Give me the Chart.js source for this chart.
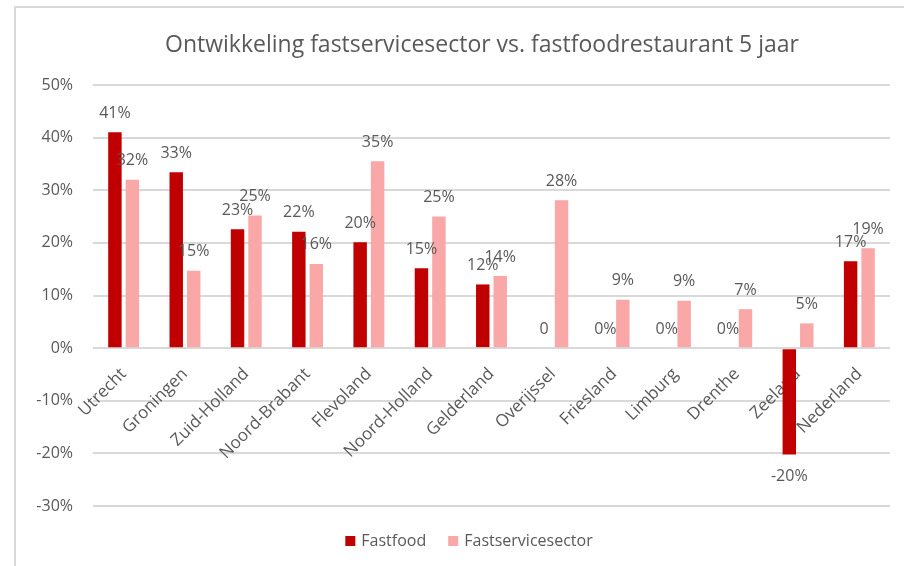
<!DOCTYPE html>
<html>
<head>
<meta charset="utf-8">
<script src="https://cdn.jsdelivr.net/npm/chart.js@4.4.0/dist/chart.umd.min.js"></script>
<style>
html,body{margin:0;padding:0;background:#fff;}
#wrap{width:904px;height:566px;position:relative;}
</style>
</head>
<body>
<div id="wrap"><canvas id="c" width="904" height="566"></canvas></div>
<script>
const titleText = 'Ontwikkeling fastservicesector vs. fastfoodrestaurant 5 jaar';
const categories = ['Utrecht','Groningen','Zuid-Holland','Noord-Brabant','Flevoland','Noord-Holland','Gelderland','Overijssel','Friesland','Limburg','Drenthe','Zeeland','Nederland'];
const seriesNames = ['Fastfood','Fastservicesector'];
const fastfood = [41.0, 33.4, 22.6, 22.1, 20.1, 15.2, 12.1, 0, 0, 0, 0, -20.2, 16.5];
const fastservice = [32.0, 14.7, 25.2, 16.0, 35.5, 25.0, 13.7, 28.1, 9.2, 9.0, 7.4, 4.7, 19.0];
const fastfoodLabels = ['41%','33%','23%','22%','20%','15%','12%','0','0%','0%','0%','-20%','17%'];
const fastserviceLabels = ['32%','15%','25%','16%','35%','25%','14%','28%','9%','9%','7%','5%','19%'];
const yMin = -30, yMax = 50, yStep = 10;

const FONT = '"Open Sans", "Noto Sans", sans-serif';
const TEXT = '#595959';
const COLORS = ['#C00000', '#F9A7A7'];
const LABEL_SETS = [fastfoodLabels, fastserviceLabels];

const deco = {
  id: 'deco',
  beforeDraw(chart) {
    const ctx = chart.ctx;
    ctx.save();
    ctx.fillStyle = '#fff';
    ctx.fillRect(0, 0, chart.width, chart.height);
    ctx.strokeStyle = '#d9d9d9';
    ctx.lineWidth = 2;
    ctx.beginPath();
    ctx.moveTo(15, chart.height + 5);
    ctx.lineTo(15, 7);
    ctx.lineTo(chart.width + 5, 7);
    ctx.stroke();
    ctx.restore();
  },
  afterDatasetsDraw(chart) {
    const ctx = chart.ctx;
    ctx.save();
    ctx.font = '16px ' + FONT;
    ctx.fillStyle = TEXT;
    ctx.textAlign = 'center';
    ctx.textBaseline = 'middle';
    chart.data.datasets.forEach((ds, di) => {
      const meta = chart.getDatasetMeta(di);
      meta.data.forEach((bar, i) => {
        const v = ds.data[i];
        const y = v < 0 ? bar.y + 22 : bar.y - 19;
        ctx.fillText(LABEL_SETS[di][i], bar.x, y);
      });
    });
    ctx.restore();
  },
  afterDraw(chart) {
    const ctx = chart.ctx;
    ctx.save();
    ctx.fillStyle = TEXT;
    ctx.font = '23px ' + FONT;
    ctx.textAlign = 'center';
    ctx.textBaseline = 'middle';
    ctx.fillText(titleText, 482, 45);
    // legend
    ctx.font = '16px ' + FONT;
    ctx.textAlign = 'left';
    const box = 10, gapBox = 6, gapItem = 22;
    const items = chart.data.datasets.map(d => ({label: d.label, color: d.backgroundColor}));
    let total = 0;
    items.forEach((it, k) => {
      total += box + gapBox + ctx.measureText(it.label).width + (k < items.length - 1 ? gapItem : 0);
    });
    let x = 469 - total / 2;
    const cy = 541;
    items.forEach((it) => {
      ctx.fillStyle = it.color;
      ctx.fillRect(x, cy - box / 2, box, box);
      x += box + gapBox;
      ctx.fillStyle = TEXT;
      ctx.fillText(it.label, x, cy);
      x += ctx.measureText(it.label).width + gapItem;
    });
    ctx.restore();
  }
};

new Chart(document.getElementById('c'), {
  type: 'bar',
  data: {
    labels: categories,
    datasets: [
      {label: seriesNames[0], data: fastfood, backgroundColor: COLORS[0]},
      {label: seriesNames[1], data: fastservice, backgroundColor: COLORS[1]}
    ]
  },
  options: {
    responsive: false,
    animation: false,
    devicePixelRatio: 1,
    layout: {padding: {top: 85, bottom: 60, left: 0, right: 14}},
    datasets: {bar: {categoryPercentage: 0.57, barPercentage: 0.77}},
    plugins: {legend: {display: false}, title: {display: false}, tooltip: {enabled: false}},
    scales: {
      x: {
        position: {y: 0},
        grid: {display: false},
        border: {display: false},
        ticks: {
          minRotation: 45, maxRotation: 45, autoSkip: false,
          color: TEXT, padding: 8,
          font: {family: FONT, size: 17}
        }
      },
      y: {
        min: yMin, max: yMax,
        afterFit(scale) { scale.width = 93; },
        border: {display: false},
        grid: {color: '#d9d9d9', lineWidth: 2, drawTicks: false},
        ticks: {
          stepSize: yStep, padding: 20, color: TEXT,
          font: {family: FONT, size: 16},
          callback: v => v + '%'
        }
      }
    }
  },
  plugins: [deco]
});
</script>
</body>
</html>
